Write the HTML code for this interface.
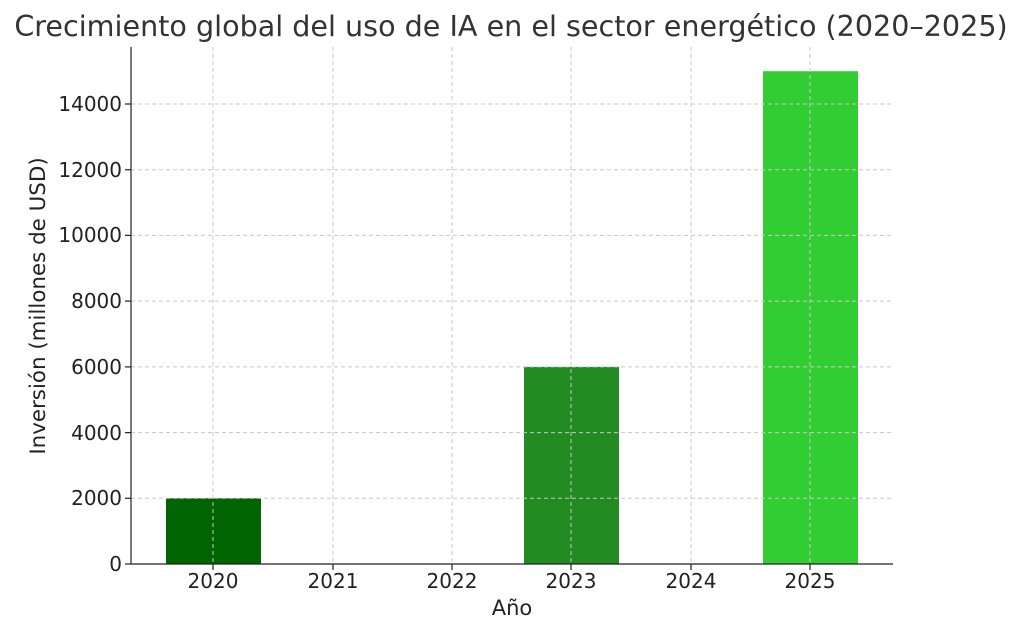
<!DOCTYPE html>
<html><head><meta charset="utf-8"><style>
html,body{margin:0;padding:0;background:#fff;}
svg{display:block;font-family:"DejaVu Sans","Liberation Sans",sans-serif;}
</style></head><body>
<svg width="1024" height="633" viewBox="0 0 1024 633" xmlns="http://www.w3.org/2000/svg">
<rect width="1024" height="633" fill="#fff"/>
<text x="511" y="36" text-anchor="middle" font-size="28.6" fill="#333">Crecimiento global del uso de IA en el sector energético (2020–2025)</text>
<rect x="166" y="498.3" width="95" height="65.7" fill="#006400"/>
<rect x="524" y="366.9" width="95" height="197.1" fill="#228B22"/>
<rect x="763" y="71.2" width="95" height="492.8" fill="#32CD32"/>
<g stroke="#c8c8c8" stroke-width="1" stroke-dasharray="4,3">
<line x1="213" y1="47" x2="213" y2="564"/><line x1="333" y1="47" x2="333" y2="564"/>
<line x1="452" y1="47" x2="452" y2="564"/><line x1="571" y1="47" x2="571" y2="564"/>
<line x1="691" y1="47" x2="691" y2="564"/><line x1="810" y1="47" x2="810" y2="564"/>
<line x1="131" y1="498.3" x2="893" y2="498.3"/><line x1="131" y1="432.6" x2="893" y2="432.6"/>
<line x1="131" y1="366.9" x2="893" y2="366.9"/><line x1="131" y1="301.1" x2="893" y2="301.1"/>
<line x1="131" y1="235.4" x2="893" y2="235.4"/><line x1="131" y1="169.7" x2="893" y2="169.7"/>
<line x1="131" y1="104" x2="893" y2="104"/>
</g>
<g stroke="#222" stroke-width="1.2">
<line x1="131" y1="47" x2="131" y2="564"/><line x1="131" y1="564" x2="893" y2="564"/>
<line x1="125" y1="564" x2="131" y2="564"/><line x1="125" y1="498.3" x2="131" y2="498.3"/>
<line x1="125" y1="432.6" x2="131" y2="432.6"/><line x1="125" y1="366.9" x2="131" y2="366.9"/>
<line x1="125" y1="301.1" x2="131" y2="301.1"/><line x1="125" y1="235.4" x2="131" y2="235.4"/>
<line x1="125" y1="169.7" x2="131" y2="169.7"/><line x1="125" y1="104" x2="131" y2="104"/>
<line x1="213" y1="564" x2="213" y2="570"/><line x1="333" y1="564" x2="333" y2="570"/>
<line x1="452" y1="564" x2="452" y2="570"/><line x1="571" y1="564" x2="571" y2="570"/>
<line x1="691" y1="564" x2="691" y2="570"/><line x1="810" y1="564" x2="810" y2="570"/>
</g>
<g font-size="20" fill="#222" text-anchor="end">
<text x="122" y="571">0</text><text x="122" y="505">2000</text><text x="122" y="440">4000</text>
<text x="122" y="374">6000</text><text x="122" y="308">8000</text><text x="122" y="242">10000</text>
<text x="122" y="177">12000</text><text x="122" y="111">14000</text>
</g>
<g font-size="20" fill="#222" text-anchor="middle">
<text x="213" y="588">2020</text><text x="333" y="588">2021</text><text x="452" y="588">2022</text>
<text x="571" y="588">2023</text><text x="691" y="588">2024</text><text x="810" y="588">2025</text>
</g>
<text x="512" y="615" text-anchor="middle" font-size="21" fill="#222">Año</text>
<text transform="translate(45,306) rotate(-90)" text-anchor="middle" font-size="21.4" fill="#222">Inversión (millones de USD)</text>
</svg>
</body></html>
